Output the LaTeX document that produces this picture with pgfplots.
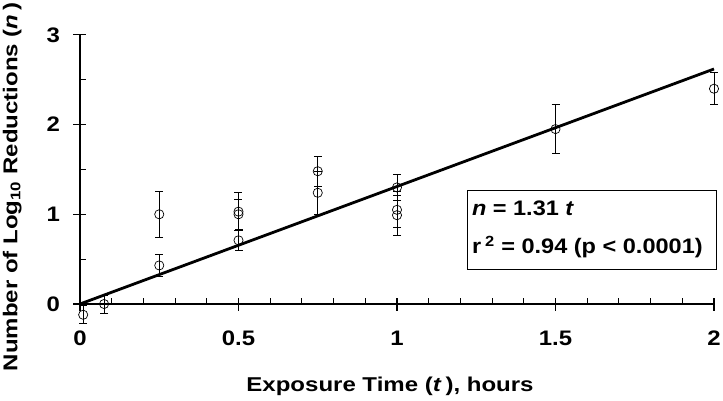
\documentclass[border=0pt]{standalone}
\usepackage{fontspec}
\setmainfont{Liberation Sans}
\usepackage{graphicx}
\usepackage{pgfplots}
\pgfplotsset{compat=1.18}

\newcommand{\wide}[1]{\scalebox{1.2}[1]{#1}}
\newcommand{\widetick}[1]{\scalebox{1.14}[1]{#1}}

\begin{document}
\begin{tikzpicture}[x=1pt,y=1pt]
\useasboundingbox (-80,-96) rectangle (643,304);
\begin{axis}[
    at={(0,0)}, anchor=origin,
    x=317pt, y=89.7pt,
    xmin=0, xmax=2, ymin=0, ymax=3,
    axis lines=left,
    axis line style={-, line width=1.4pt},
    clip=false,
    xtick={0,0.5,1,1.5,2},
    ytick={0,1,2,3},
    minor xtick={0.1,0.2,0.3,0.4,0.6,0.7,0.8,0.9,1.1,1.2,1.3,1.4,1.6,1.7,1.8,1.9},
    minor ytick={0.5,1.5,2.5},
    tick align=center,
    major tick length=13pt,
    minor tick length=6pt,
    tick style={black, line width=1.1pt},
    minor x tick style={yshift=3pt},
    minor y tick style={xshift=3pt},
    ticklabel style={font=\bfseries\fontsize{21}{25}\selectfont},
    /pgf/number format/assume math mode=true,
    xticklabel={\widetick{\pgfmathprintnumber{\tick}}},
    yticklabel={\widetick{\pgfmathprintnumber{\tick}}},
    xticklabel style={yshift=-17pt},
    yticklabel style={xshift=-10pt},
    xlabel={\wide{Exposure Time (\textit{t}\,), hours}},
    ylabel={\wide{Number of Log\textsubscript{10} Reductions (\textit{n}\,)}},
    label style={font=\bfseries\fontsize{20}{24}\selectfont},
    xlabel style={at={(axis description cs:0.489,-0.305)}, anchor=center},
    ylabel style={at={(axis description cs:-0.107,0.435)}, anchor=center},
]

% regression line n = 1.31 t
\addplot[black, line width=2.8pt] coordinates {(0,0) (2,2.62)};

% measured log reductions with error bars
\addplot[black, only marks, mark=o, mark size=4.6pt, mark options={line width=0.7pt},
         error bars/.cd, y dir=both, y explicit,
         error bar style={line width=0.8pt},
         error mark options={rotate=90, mark size=4pt, line width=0.8pt}]
coordinates {
(0.01,-0.12) +- (0,0.10)
(0.076,0.0) +- (0,0.10)
(0.25,1.0) +- (0,0.26)
(0.25,0.43) +- (0,0.12)
(0.5,1.03) +- (0,0.21)
(0.5,1.0) +- (0,0.17)
(0.5,0.71) +- (0,0.11)
(0.75,1.48) +- (0,0.17)
(0.75,1.24) +- (0,0.24)
(1,1.30) +- (0,0.14)
(1,1.05) +- (0,0.20)
(1,0.99) +- (0,0.22)
(1.5,1.95) +- (0,0.27)
(2,2.40) +- (0,0.18)
};

% regression box
\draw[line width=0.8pt] (axis cs:1.221,0.39) rectangle (axis cs:2.006,1.27);
\node[anchor=base west, inner sep=0pt, font=\bfseries\fontsize{21}{25}\selectfont]
  at (axis cs:1.236,0.985) {\scalebox{1.12}[1]{\textit{n} = 1.31 \textit{t}}};
\node[anchor=base west, inner sep=0pt, font=\bfseries\fontsize{21}{25}\selectfont]
  at (axis cs:1.236,0.56) {\scalebox{1.12}[1]{r\,\textsuperscript{2} = 0.94 (p < 0.0001)}};
\end{axis}
\end{tikzpicture}
\end{document}
